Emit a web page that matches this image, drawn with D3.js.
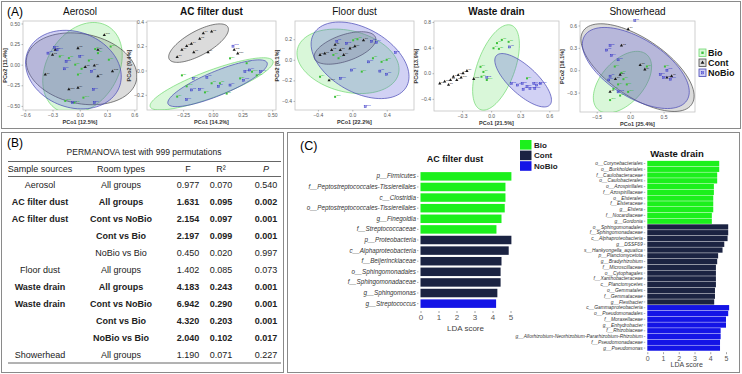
<!DOCTYPE html>
<html>
<head>
<meta charset="utf-8">
<script src="https://cdn.jsdelivr.net/npm/d3@7"></script>
<style>
  body { margin: 0; background: #fff; font-family: "Liberation Sans", Arial, sans-serif; }
  svg { display: block; }
</style>
</head>
<body>
<div id="fig"></div>
<script>
// ================= DATA =================
const groups = ["Bio", "Cont", "NoBio"];

// ---- (A) PCoA points, [PCo1, PCo2] ----
const aerosolBio = [[-0.22,0.10],[-0.12,0.08],[-0.05,0.00],[0.02,-0.05],[0.10,0.05],[0.17,0.19],[0.20,0.14],[0.32,0.06],[-0.02,-0.12],[-0.16,-0.44],[-0.06,-0.46],[0.04,-0.40],[0.34,0.22]];
const aerosolCont = [[-0.27,0.18],[-0.30,0.12],[-0.02,0.20],[0.20,0.18],[0.06,-0.03],[0.16,-0.01],[-0.38,-0.12],[0.20,-0.14],[-0.02,-0.28],[-0.12,-0.30],[0.27,0.36],[0.36,-0.08]];
const aerosolNoBio = [[-0.28,0.21],[-0.35,0.14],[-0.15,0.04],[-0.17,-0.05],[0.13,-0.08],[0.15,-0.30],[-0.08,-0.46],[0.16,-0.46],[0.00,0.10],[-0.25,0.18]];

const acBio = [[-0.26,-0.04],[-0.01,-0.105],[0.06,-0.105],[-0.066,-0.18],[0.117,-0.19],[-0.30,-0.215],[0.23,-0.065],[0.145,0.10],[0.285,0.06],[0.33,-0.01],[0.37,-0.04],[-0.22,-0.13]];
const acCont = [[-0.08,0.306],[-0.01,0.32],[-0.11,0.26],[-0.18,0.22],[-0.22,0.20],[-0.26,0.17],[-0.16,0.15],[-0.30,0.11],[-0.04,0.15],[0.21,0.14],[0.18,0.17]];
const acNoBio = [[-0.165,-0.065],[-0.05,-0.056],[-0.18,-0.16],[-0.11,-0.155],[0.046,-0.13],[0.145,-0.12],[-0.22,-0.24],[0.27,-0.01],[0.31,0.004],[0.40,-0.01],[0.26,-0.08],[0.17,0.20]];

const floorBio = [[0.01,0.19],[0.06,0.20],[-0.22,0.047],[-0.16,0.015],[0.24,0.015],[0.34,-0.02],[0.40,0.00],[0.11,-0.115],[-0.375,-0.165],[-0.20,-0.36]];
const floorCont = [[-0.32,0.06],[-0.24,0.095],[-0.14,0.095],[-0.10,0.047],[-0.027,0.11],[0.03,0.13],[-0.20,0.145],[0.13,0.19],[-0.375,0.047],[-0.27,-0.20]];
const floorNoBio = [[-0.18,0.18],[-0.065,0.16],[0.225,0.18],[0.28,0.17],[0.50,0.07],[0.19,-0.02],[0.32,-0.11],[0.40,-0.14],[-0.007,-0.10],[-0.14,-0.18],[0.15,-0.456]];

const wasteBio = [[0.06,0.47],[0.11,0.52],[0.18,0.49],[0.024,0.39],[0.08,0.38],[-0.11,0.10],[-0.08,0.02],[-0.10,-0.055],[0.37,-0.08],[-0.045,-0.106]];
const wasteCont = [[-0.53,-0.16],[-0.48,-0.13],[-0.42,-0.106],[-0.39,-0.055],[-0.34,-0.03],[-0.29,0.00],[-0.25,0.035],[-0.44,-0.18],[-0.355,-0.106],[-0.31,-0.07],[-0.18,-0.09]];
const wasteNoBio = [[0.19,0.41],[-0.045,-0.07],[0.21,-0.16],[0.27,-0.185],[0.32,-0.16],[0.37,-0.21],[0.44,-0.16],[0.47,-0.185],[0.33,-0.25],[0.40,-0.24],[0.45,-0.24],[0.51,-0.16]];

const showerBio = [[-0.23,0.05],[-0.13,-0.035],[-0.10,-0.12],[-0.18,-0.19],[-0.05,-0.19],[-0.25,-0.25],[0.25,0.05],[0.52,0.05],[-0.15,-0.34],[-0.30,-0.40],[-0.03,-0.29]];
const showerCont = [[-0.03,0.55],[-0.13,0.33],[0.15,0.07],[0.22,0.01],[0.55,-0.10],[0.62,-0.08],[-0.30,-0.29],[-0.15,-0.06],[-0.22,-0.12]];
const showerNoBio = [[0.07,0.665],[-0.30,0.33],[-0.35,0.27],[-0.28,0.20],[-0.18,0.14],[-0.30,-0.08],[-0.32,-0.13],[0.45,-0.06],[0.50,-0.10],[0.60,-0.12],[0.55,0.00],[-0.18,-0.29]];

// ellipses: [group, centre PCo1, centre PCo2, semi-major, semi-minor, angle in degrees]
const aerosolEllipses = [["Bio",0.03,-0.04,0.58,0.40,65],["Cont",0.02,-0.05,0.62,0.42,-15],["NoBio",-0.07,-0.06,0.55,0.45,-30]];
const acEllipses = [["Bio",-0.01,-0.11,0.55,0.11,20],["Cont",-0.12,0.225,0.28,0.10,28],["NoBio",0.04,-0.105,0.45,0.10,22]];
const floorEllipses = [["Bio",-0.05,-0.015,0.60,0.30,-10],["Cont",-0.085,0.115,0.37,0.13,15],["NoBio",0.09,-0.005,0.60,0.32,-22]];
const wasteEllipses = [["Bio",0.05,0.09,0.68,0.20,78],["NoBio",0.33,-0.11,0.48,0.17,-58]];
const showerEllipses = [["Bio",-0.115,-0.16,0.52,0.30,42],["Cont",0.11,0.035,0.95,0.40,-30],["NoBio",0.085,0.03,0.88,0.40,-28]];

// tick values
const aerosolXTicks = [-0.6,-0.3,0,0.3,0.6], aerosolYTicks = [-0.5,-0.25,0,0.25,0.5];
const acXTicks = [-0.25,0,0.25,0.5], acYTicks = [-0.2,0,0.2,0.4];
const floorXTicks = [-0.4,0,0.4], floorYTicks = [-0.4,-0.2,0,0.2];
const wasteXTicks = [-0.3,0,0.3,0.6], wasteYTicks = [-0.4,0,0.4,0.8];
const showerXTicks = [-0.5,0,0.5], showerYTicks = [-0.3,0,0.3,0.6];

// ---- (B) PERMANOVA ----
const tableHeader = ["Sample sources", "Room types", "F", "R\u00b2", "P"];
const sampleSources = ["Aerosol","AC filter dust","AC filter dust","","","Floor dust","Waste drain","Waste drain","","","Showerhead"];
const roomTypes = ["All groups","All groups","Cont vs NoBio","Cont vs Bio","NoBio vs Bio","All groups","All groups","Cont vs NoBio","Cont vs Bio","NoBio vs Bio","All groups"];
const fValues = [0.977,1.631,2.154,2.197,0.450,1.402,4.183,6.942,4.320,2.040,1.190];
const r2Values = [0.070,0.095,0.097,0.099,0.020,0.085,0.243,0.290,0.203,0.102,0.071];
const pValues = [0.540,0.002,0.001,0.001,0.997,0.073,0.001,0.001,0.001,0.017,0.227];

// ---- (C) LEfSe ----
const acTaxa = ["p__Firmicutes","f__Peptostreptococcales-Tissierellales","c__Clostridia","o__Peptostreptococcales-Tissierellales","g__Finegoldia","f__Streptococcaceae","p__Proteobacteria","c__Alphaproteobacteria","f__Beijerinckiaceae","o__Sphingomonadales","f__Sphingomonadaceae","g__Sphingomonas","g__Streptococcus"];
const acLda = [5.05,4.72,4.72,4.68,4.50,4.22,5.05,4.90,4.50,4.45,4.45,4.27,4.20];
const acGroup = ["Bio","Bio","Bio","Bio","Bio","Bio","Cont","Cont","Cont","Cont","Cont","Cont","NoBio"];

const wdTaxa = ["o__Corynebacteriales","o__Burkholderiales","f__Caulobacteraceae","o__Caulobacterales","o__Azospirillales","f__Azospirillaceae","o__Elsterales","f__Elsteraceae","g__Elstera","f__Nocardiaceae","g__Gordonia",
  "o__Sphingomonadales","f__Sphingomonadaceae","c__Alphaproteobacteria","g__DSSF69","s__Hankyongella_aquatica","p__Planctomycetota","g__Bradyrhizobium","f__Microscillaceae","o__Cytophagales","f__Xanthobacteraceae","c__Planctomycetes","o__Gemmatales","f__Gemmataceae","g__Flexibacter",
  "c__Gammaproteobacteria","o__Pseudomonadales","f__Moraxellaceae","g__Enhydrobacter","f__Rhizobiaceae","g__Allorhizobium-Neorhizobium-Pararhizobium-Rhizobium","f__Pseudomonadaceae","g__Pseudomonas"];
const wdLda = [4.57,4.57,4.44,4.44,4.23,4.23,4.19,4.19,4.19,4.10,4.10,
  5.14,5.14,5.10,4.89,4.78,4.50,4.44,4.36,4.36,4.36,4.36,4.30,4.30,4.25,
  5.20,5.14,5.00,5.00,4.66,4.66,4.62,4.62];
const wdGroup = [...Array(11).fill("Bio"), ...Array(14).fill("Cont"), ...Array(8).fill("NoBio")];
const ldaTicks = [0,1,2,3,4,5];

// ================= STYLE =================
const ellStroke = { Bio: "#6fd86f", Cont: "#4a4a4a", NoBio: "#4646b4" };
const ellFill = { Bio: "rgba(120,225,120,0.28)", Cont: "rgba(110,110,110,0.25)", NoBio: "rgba(90,90,215,0.28)" };
const ptColor = { Bio: "#3cc03c", Cont: "#1a1a1a", NoBio: "#3434c8" };
const barColor = { Bio: "#1cf01c", Cont: "#1b2342", NoBio: "#1414e6" };

const W = 742, H = 374;
const svg = d3.select("#fig").append("svg").attr("width", W).attr("height", H);

/*****************/
/* panel borders */
/*****************/
const boxes = [[1,1,739,127],[1,132,282,240],[287,132,452,240]];
svg.selectAll("rect.box").data(boxes).join("rect")
  .attr("class","box")
  .attr("x", d => d[0] + 0.5).attr("y", d => d[1] + 0.5)
  .attr("width", d => d[2]).attr("height", d => d[3])
  .attr("fill","none").attr("stroke","#8a8a8a").attr("stroke-width",1);

svg.append("text").attr("x",7).attr("y",16).attr("font-size",12).text("(A)");
svg.append("text").attr("x",7).attr("y",147).attr("font-size",12).text("(B)");
svg.append("text").attr("x",300).attr("y",150).attr("font-size",12.5).text("(C)");

/**************/
/* PCoA plots */
/**************/
const plots = [
  { title:"Aerosol", bold:false, frame:[23,21,137,110], xDom:[-0.625,0.63], yDom:[-0.55,0.53], xt:aerosolXTicks, yt:aerosolYTicks, xf:".1f", yf:".2f", xl:"PCo1 [12.5%]", yl:"PCo2 [11.4%]", pts:[aerosolBio,aerosolCont,aerosolNoBio], ell:aerosolEllipses },
  { title:"AC filter dust", bold:true, frame:[147,21,276,110], xDom:[-0.554,0.532], yDom:[-0.325,0.407], xt:acXTicks, yt:acYTicks, xf:".2f", yf:".1f", xl:"PCo1 [14.2%]", yl:"PCo2 [9.4%]", pts:[acBio,acCont,acNoBio], ell:acEllipses },
  { title:"Floor dust", bold:false, frame:[295,21,414,110], xDom:[-0.666,0.717], yDom:[-0.488,0.377], xt:floorXTicks, yt:floorYTicks, xf:".1f", yf:".1f", xl:"PCo1 [22.2%]", yl:"PCo2 [8.1%]", pts:[floorBio,floorCont,floorNoBio], ell:floorEllipses },
  { title:"Waste drain", bold:true, frame:[434,21,559,111], xDom:[-0.59,0.70], yDom:[-0.59,0.815], xt:wasteXTicks, yt:wasteYTicks, xf:".1f", yf:".1f", xl:"PCo1 [21.5%]", yl:"PCo2 [13.9%]", pts:[wasteBio,wasteCont,wasteNoBio], ell:wasteEllipses },
  { title:"Showerhead", bold:false, frame:[580,21,695,112], xDom:[-0.75,0.97], yDom:[-0.56,0.66], xt:showerXTicks, yt:showerYTicks, xf:".1f", yf:".1f", xl:"PCo1 [25.4%]", yl:"PCo2 [16.1%]", pts:[showerBio,showerCont,showerNoBio], ell:showerEllipses }
];

const ellipsePoints = e => {
  const [, cx, cy, a, b, deg] = e;
  const th = deg * Math.PI / 180;
  return d3.range(90).map(i => {
    const t = i / 90 * 2 * Math.PI;
    return [cx + a*Math.cos(th)*Math.cos(t) - b*Math.sin(th)*Math.sin(t),
            cy + a*Math.sin(th)*Math.cos(t) + b*Math.cos(th)*Math.sin(t)];
  });
};

const marker = (g, grp, px, py, s = 1) => {
  const h = 1.0 * s;
  if (grp === "Bio") {
    g.append("rect").attr("x",px-h).attr("y",py-h).attr("width",2*h).attr("height",2*h)
      .attr("fill",ptColor.Bio);
  } else if (grp === "Cont") {
    g.append("path").attr("d", d3.symbol(d3.symbolTriangle, 4.5*s*s)()).attr("transform",`translate(${px},${py})`)
      .attr("fill",ptColor.Cont);
  } else {
    g.append("rect").attr("x",px-h).attr("y",py-h).attr("width",2*h).attr("height",2*h)
      .attr("fill","none").attr("stroke",ptColor.NoBio).attr("stroke-width",0.5);
    g.append("path").attr("d",`M${px-h},${py-h}L${px+h},${py+h}M${px+h},${py-h}L${px-h},${py+h}`)
      .attr("stroke",ptColor.NoBio).attr("stroke-width",0.4);
  }
};

plots.forEach((p, k) => {
  const [x0, y0, x1, y1] = p.frame;
  const xScale = d3.scaleLinear().domain(p.xDom).range([x0, x1]);
  const yScale = d3.scaleLinear().domain(p.yDom).range([y1, y0]);
  const g = svg.append("g");

  g.append("rect").attr("x",x0).attr("y",y0).attr("width",x1-x0).attr("height",y1-y0)
    .attr("fill","#fff").attr("stroke","#c4c4c4").attr("stroke-width",0.8);

  const clipId = "clip" + k;
  g.append("clipPath").attr("id",clipId).append("rect")
    .attr("x",x0).attr("y",y0).attr("width",x1-x0).attr("height",y1-y0);

  const lineGen = d3.line().x(d => xScale(d[0])).y(d => yScale(d[1])).curve(d3.curveLinearClosed);
  g.append("g").attr("clip-path",`url(#${clipId})`)
    .selectAll("path").data(p.ell).join("path")
      .attr("d", d => lineGen(ellipsePoints(d)))
      .attr("fill", d => ellFill[d[0]])
      .attr("stroke", d => ellStroke[d[0]])
      .attr("stroke-width", 0.7);

  // points with tiny sample labels
  const pg = g.append("g");
  p.pts.forEach((arr, gi) => {
    const grp = groups[gi];
    arr.forEach((d, i) => {
      const px = xScale(d[0]), py = yScale(d[1]);
      marker(pg, grp, px, py);
      pg.append("text").attr("x",px+1.3).attr("y",py-0.8).attr("font-size",2.4)
        .attr("fill",ptColor[grp]).text(grp[0] + (i+1));
    });
  });

  // axes
  const xAxis = d3.axisBottom(xScale).tickValues(p.xt).tickFormat(d3.format(p.xf)).tickSize(1.5).tickPadding(1.5);
  const yAxis = d3.axisLeft(yScale).tickValues(p.yt).tickFormat(d3.format(p.yf)).tickSize(1.5).tickPadding(1.5);
  const gx = g.append("g").attr("transform",`translate(0,${y1})`).call(xAxis);
  const gy = g.append("g").attr("transform",`translate(${x0},0)`).call(yAxis);
  [gx, gy].forEach(a => {
    a.select(".domain").remove();
    a.selectAll("line").attr("stroke","#777").attr("stroke-width",0.5);
    a.selectAll("text").attr("font-size",5).attr("fill","#555").attr("font-family","Liberation Sans, Arial");
  });

  g.append("text").attr("x",(x0+x1)/2).attr("y",y1+14).attr("text-anchor","middle")
    .attr("font-size",5.5).attr("font-weight","bold").attr("fill","#333").text(p.xl);
  g.append("text").attr("transform",`translate(${x0-16},${(y0+y1)/2}) rotate(-90)`).attr("text-anchor","middle")
    .attr("font-size",5.5).attr("font-weight","bold").attr("fill","#333").text(p.yl);

  g.append("text").attr("x",(x0+x1)/2).attr("y",15).attr("text-anchor","middle")
    .attr("font-size",10).attr("font-weight", p.bold ? "bold" : "normal").attr("fill","#111").text(p.title);
});

// legend (A)
const legA = svg.append("g").attr("transform","translate(699,49)");
groups.forEach((grp, i) => {
  const ly = i * 10;
  legA.append("rect").attr("x",0).attr("y",ly).attr("width",7).attr("height",7.5)
    .attr("fill", ellFill[grp]).attr("stroke", ellStroke[grp]).attr("stroke-width",0.8);
  marker(legA, grp, 3.5, ly + 3.75, 1.2);
  legA.append("text").attr("x",9).attr("y",ly+7.2).attr("font-size",9).attr("font-weight","bold")
    .attr("fill","#111").text(grp);
});

/*****************/
/* (B) PERMANOVA */
/*****************/
const tb = svg.append("g");
tb.append("text").attr("x",144).attr("y",155).attr("text-anchor","middle").attr("font-size",8.5)
  .attr("fill","#222").text("PERMANOVA test with 999 permutations");

const colX = [40, 121, 188, 221, 266];
const rowScale = d3.scaleBand().domain(d3.range(sampleSources.length)).range([177, 363]);
[161.5, 176.5, 363].forEach(yy => {
  tb.append("line").attr("x1",8).attr("x2",281).attr("y1",yy).attr("y2",yy)
    .attr("stroke","#555").attr("stroke-width",0.9);
});
tableHeader.forEach((h, i) => {
  tb.append("text").attr("x",colX[i]).attr("y",171.5).attr("text-anchor","middle").attr("font-size",9)
    .attr("font-style", i === 4 ? "italic" : "normal").attr("fill","#222").text(h);
});
const fmt3 = d3.format(".3f");
sampleSources.forEach((s, i) => {
  const yy = rowScale(i) + rowScale.bandwidth()/2 + 3;
  const bold = pValues[i] < 0.05 ? "bold" : "normal";
  const cells = [s, roomTypes[i], fmt3(fValues[i]), fmt3(r2Values[i]), fmt3(pValues[i])];
  cells.forEach((c, j) => {
    tb.append("text").attr("x",colX[j]).attr("y",yy).attr("text-anchor","middle").attr("font-size",9)
      .attr("font-weight",bold).attr("fill","#222").text(c);
  });
});

/*********************/
/* (C) LDA barcharts */
/*********************/
const drawLda = (cfg) => {
  const g = svg.append("g");
  const xScale = d3.scaleLinear().domain([0,5]).range(cfg.xr);
  const yScale = d3.scaleBand().domain(cfg.taxa).range(cfg.yr).padding(cfg.pad);
  g.selectAll("rect").data(cfg.taxa).join("rect")
    .attr("x", xScale(0)).attr("y", d => yScale(d))
    .attr("width", (d,i) => xScale(cfg.lda[i]) - xScale(0))
    .attr("height", yScale.bandwidth())
    .attr("fill", (d,i) => barColor[cfg.grp[i]]);

  const ya = g.append("g").attr("transform",`translate(${xScale(0)-2},0)`)
    .call(d3.axisLeft(yScale).tickSize(1.5).tickPadding(1));
  ya.select(".domain").remove();
  ya.selectAll("line").attr("stroke","#666").attr("stroke-width",0.5);
  ya.selectAll("text").attr("font-size",cfg.fs).attr("font-style","italic").attr("fill","#333")
    .attr("font-family","Liberation Sans, Arial");

  const xa = g.append("g").attr("transform",`translate(0,${cfg.yr[1]+1})`)
    .call(d3.axisBottom(xScale).tickValues(ldaTicks).tickFormat(d3.format("d")).tickSize(2).tickPadding(1.5));
  xa.select(".domain").remove();
  xa.selectAll("line").attr("stroke","#666").attr("stroke-width",0.6);
  xa.selectAll("text").attr("font-size",cfg.tfs).attr("fill","#555").attr("font-family","Liberation Sans, Arial");

  g.append("text").attr("x",(cfg.xr[0]+cfg.xr[1])/2).attr("y",cfg.yr[1]+cfg.lblDy).attr("text-anchor","middle")
    .attr("font-size",cfg.tfs).attr("fill","#444").text("LDA score");
  g.append("text").attr("x",cfg.titleX).attr("y",cfg.titleY).attr("text-anchor","middle")
    .attr("font-size",cfg.titleFs).attr("font-weight","bold").attr("fill","#111").text(cfg.title);
};

drawLda({ taxa: acTaxa, lda: acLda, grp: acGroup, xr:[420.5,510.5], yr:[170,310], pad:0.2, fs:6.3, tfs:8,
  lblDy:21, title:"AC filter dust", titleX:455, titleY:162, titleFs:9 });
drawLda({ taxa: wdTaxa, lda: wdLda, grp: wdGroup, xr:[647.3,726], yr:[160.4,351.2], pad:0.08, fs:4.9, tfs:7,
  lblDy:16, title:"Waste drain", titleX:677, titleY:157, titleFs:9.5 });

// legend (C)
const legC = svg.append("g").attr("transform","translate(520,140)");
groups.forEach((grp, i) => {
  legC.append("rect").attr("x",0).attr("y",i*10.6).attr("width",11.5).attr("height",9.6).attr("fill",barColor[grp]);
  legC.append("text").attr("x",14).attr("y",i*10.6+7.5).attr("font-size",8).attr("font-weight","bold")
    .attr("fill","#222").text(grp);
});
</script>
</body>
</html>
